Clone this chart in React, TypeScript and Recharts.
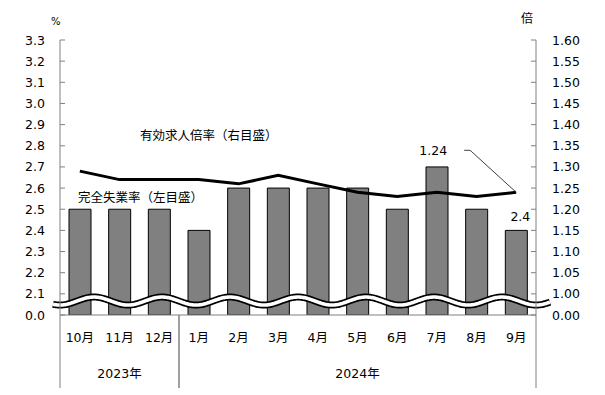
import React from 'react';
import {
  ComposedChart,
  Bar,
  Line,
  XAxis,
  YAxis,
  ReferenceLine,
  ReferenceArea,
  LabelList,
  Customized,
} from 'recharts';

// ---- data ----
const months = ['10月', '11月', '12月', '1月', '2月', '3月', '4月', '5月', '6月', '7月', '8月', '9月'];
const unemploymentRate = [2.5, 2.5, 2.5, 2.4, 2.6, 2.6, 2.6, 2.6, 2.5, 2.7, 2.5, 2.4];
const jobsRatio = [1.29, 1.27, 1.27, 1.27, 1.26, 1.28, 1.26, 1.24, 1.23, 1.24, 1.23, 1.24];
const yearGroups = [
  { label: '2023年', from: '10月', to: '12月' },
  { label: '2024年', from: '1月', to: '9月' },
];
const leftTicks = [2.0, 2.1, 2.2, 2.3, 2.4, 2.5, 2.6, 2.7, 2.8, 2.9, 3.0, 3.1, 3.2, 3.3];
const leftTickLabels = ['0.0', '2.1', '2.2', '2.3', '2.4', '2.5', '2.6', '2.7', '2.8', '2.9', '3.0', '3.1', '3.2', '3.3'];
const rightTicks = [0.95, 1.0, 1.05, 1.1, 1.15, 1.2, 1.25, 1.3, 1.35, 1.4, 1.45, 1.5, 1.55, 1.6];
const rightTickLabels = ['0.00', '1.00', '1.05', '1.10', '1.15', '1.20', '1.25', '1.30', '1.35', '1.40', '1.45', '1.50', '1.55', '1.60'];
const breakValue = 2.066;
const leftUnit = '%';
const rightUnit = '倍';
const lineSeriesName = '有効求人倍率（右目盛）';
const barSeriesName = '完全失業率（左目盛）';

const data = months.map((m, i) => ({ month: m, rate: unemploymentRate[i], ratio: jobsRatio[i] }));

const FONT = "'DejaVu Sans', 'Noto Sans CJK JP', sans-serif";
const CJK = "'Noto Sans CJK JP', sans-serif";
const AXIS = '#808080';

const labelFor = (ticks: number[], labels: string[], v: number) => {
  const i = ticks.findIndex((t) => Math.abs(t - v) < 1e-6);
  return i >= 0 ? labels[i] : String(v);
};

const LeftTick = (props: any) => {
  const { x, y, payload } = props;
  return (
    <g>
      <line x1={x} x2={x + 5} y1={y} y2={y} stroke={AXIS} />
      <text x={x - 15} y={y} dominantBaseline="central" textAnchor="end" fontSize={12.5} fontFamily={FONT} fill="#000">
        {labelFor(leftTicks, leftTickLabels, payload.value)}
      </text>
    </g>
  );
};

const RightTick = (props: any) => {
  const { x, y, payload } = props;
  return (
    <g>
      <line x1={x} x2={x - 5} y1={y} y2={y} stroke={AXIS} />
      <text x={x + 16} y={y} dominantBaseline="central" textAnchor="start" fontSize={12.5} fontFamily={FONT} fill="#000">
        {labelFor(rightTicks, rightTickLabels, payload.value)}
      </text>
    </g>
  );
};

const MonthTick = (props: any) => {
  const { x, y, payload } = props;
  return (
    <text x={x} y={y + 22} dominantBaseline="central" textAnchor="middle" fontSize={12.5} fontFamily={FONT} fill="#000">
      {payload.value}
    </text>
  );
};

const makeYearShape = (label: string) => (p: any) => {
  const { x, y, width, height } = p;
  const bottom = y + height;
  return (
    <g>
      <line x1={x} x2={x} y1={bottom} y2={bottom + 73} stroke={AXIS} />
      <line x1={x + width} x2={x + width} y1={bottom} y2={bottom + 73} stroke={AXIS} />
      <text x={x + width / 2} y={bottom + 58} dominantBaseline="central" textAnchor="middle" fontSize={12.5} fontFamily={FONT} fill="#000">
        {label}
      </text>
    </g>
  );
};

const WaveBreak = (p: any) => {
  const { x1, x2, y1 } = p;
  const start = x1 - 7;
  const end = x2 + 14;
  const period = (x2 - x1) / 7;
  const amp = 4;
  let d = '';
  for (let x = start; x <= end + 0.01; x += 1) {
    const yy = y1 + amp * Math.cos((2 * Math.PI * (x - x1)) / period);
    d += (d ? 'L' : 'M') + x.toFixed(2) + ',' + yy.toFixed(2);
  }
  return (
    <g>
      <path d={d} stroke="#000" strokeWidth={7} fill="none" />
      <path d={d} stroke="#fff" strokeWidth={3.6} fill="none" />
    </g>
  );
};

const RatioLabel = (p: any) => {
  const { x, y, index, value } = p;
  if (index !== months.length - 1) return null;
  return (
    <g>
      <polyline
        points={`${x - 52},${y - 42} ${x - 46},${y - 42} ${x},${y}`}
        fill="none"
        stroke="#404040"
        strokeWidth={1}
      />
      <text x={x - 69} y={y - 42} dominantBaseline="central" textAnchor="end" fontSize={12.5} fontFamily={FONT} fill="#000">
        {Number(value).toFixed(2)}
      </text>
    </g>
  );
};

const RateLabel = (p: any) => {
  const { x, y, width, index, value } = p;
  if (index !== months.length - 1) return null;
  return (
    <text x={x + width / 2 + 4} y={y - 14} dominantBaseline="central" textAnchor="middle" fontSize={12.5} fontFamily={FONT} fill="#000">
      {Number(value).toFixed(1)}
    </text>
  );
};

const Annotations = () => (
  <g>
    <text x={51} y={21} dominantBaseline="central" fontSize={10} fontFamily={FONT} fill="#000">{leftUnit}</text>
    <text x={521} y={17} dominantBaseline="central" fontSize={12} fontFamily={CJK} fill="#000">{rightUnit}</text>
    <text x={140} y={134} dominantBaseline="central" fontSize={12.5} fontFamily={CJK} fill="#000">{lineSeriesName}</text>
    <text x={78} y={196} dominantBaseline="central" fontSize={12.5} fontFamily={CJK} fill="#000">{barSeriesName}</text>
  </g>
);

export default function App() {
  return (
    <div style={{ position: 'absolute', left: 0, top: 0, width: 605, height: 395, background: '#fff' }}>
      <ComposedChart width={605} height={395} data={data} margin={{ top: 40, right: 0, bottom: 0, left: 0 }}>
        <XAxis
          dataKey="month"
          xAxisId="x"
          height={80}
          tickLine={false}
          tickSize={0}
          tickMargin={0}
          axisLine={{ stroke: AXIS }}
          tick={<MonthTick />}
          interval={0}
        />
        <YAxis
          yAxisId="left"
          orientation="left"
          width={60}
          domain={[2.0, 3.3]}
          ticks={leftTicks}
          tickLine={false}
          tickSize={0}
          tickMargin={0}
          axisLine={{ stroke: AXIS }}
          tick={<LeftTick />}
          interval={0}
          allowDataOverflow
        />
        <YAxis
          yAxisId="right"
          orientation="right"
          width={69}
          domain={[0.95, 1.6]}
          ticks={rightTicks}
          tickLine={false}
          tickSize={0}
          tickMargin={0}
          axisLine={{ stroke: AXIS }}
          tick={<RightTick />}
          interval={0}
          allowDataOverflow
        />
        {yearGroups.map((g) => (
          <ReferenceArea
            key={g.label}
            xAxisId="x"
            yAxisId="left"
            x1={g.from}
            x2={g.to}
            ifOverflow="visible"
            shape={makeYearShape(g.label)}
          />
        ))}
        <Bar
          dataKey="rate"
          xAxisId="x"
          yAxisId="left"
          fill="#808080"
          stroke="#000"
          strokeWidth={1}
          barSize={22}
          isAnimationActive={false}
        >
          <LabelList dataKey="rate" content={<RateLabel />} />
        </Bar>
        <Line
          dataKey="ratio"
          xAxisId="x"
          yAxisId="right"
          type="linear"
          stroke="#000"
          strokeWidth={3}
          dot={false}
          activeDot={false}
          isAnimationActive={false}
        >
          <LabelList dataKey="ratio" content={<RatioLabel />} />
        </Line>
        <ReferenceLine xAxisId="x" yAxisId="left" y={breakValue} ifOverflow="visible" shape={<WaveBreak />} />
        <Customized component={Annotations} />
      </ComposedChart>
    </div>
  );
}
